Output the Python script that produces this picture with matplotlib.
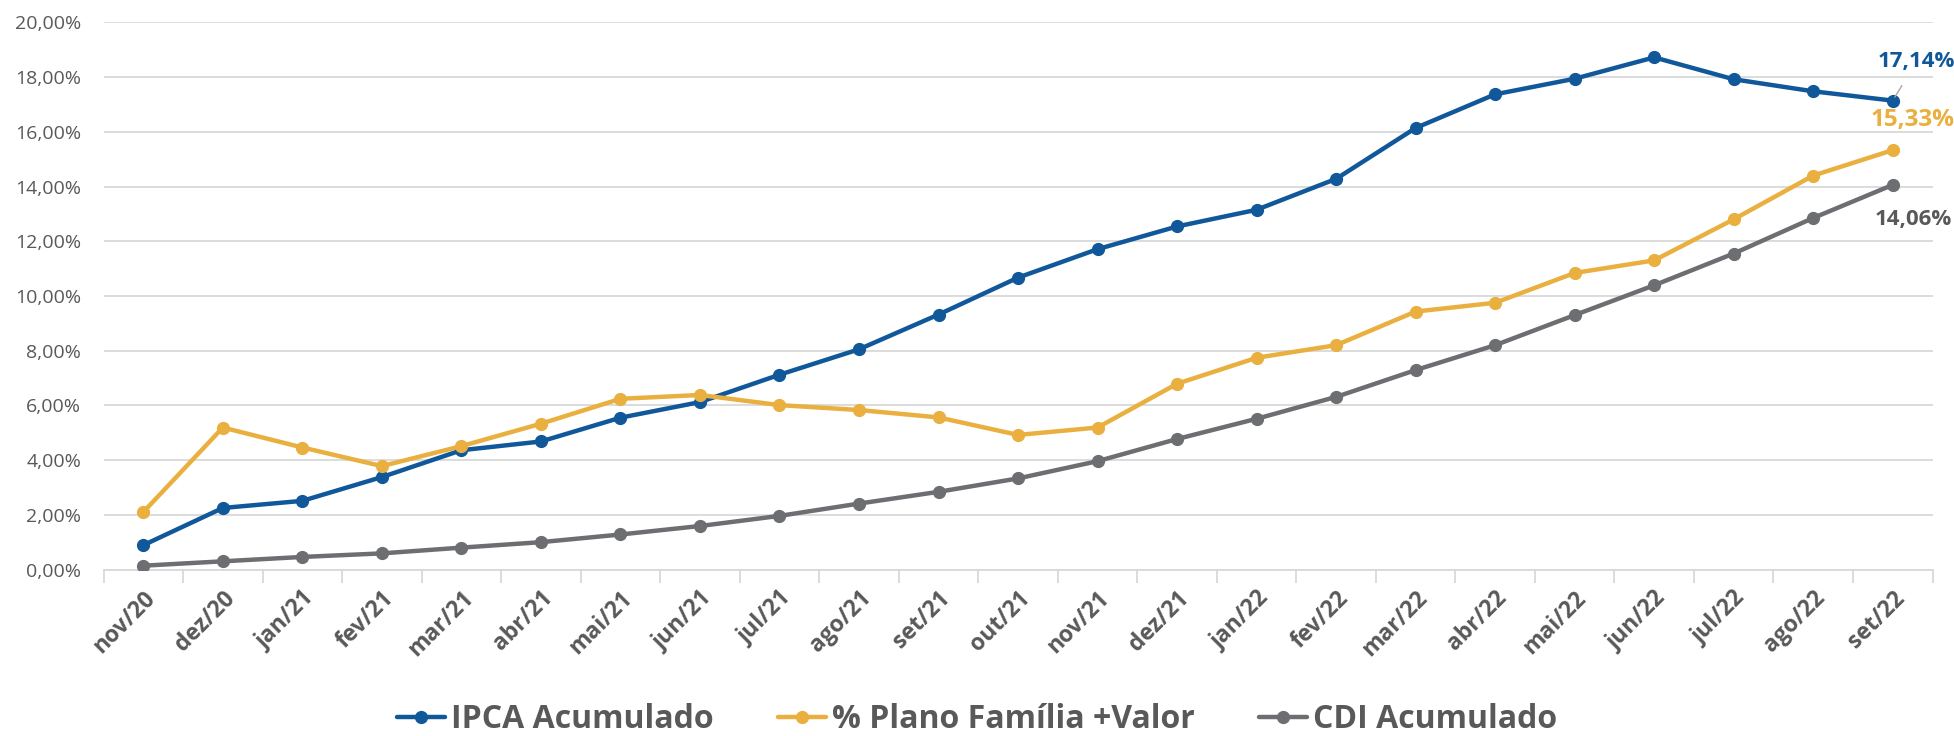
import matplotlib
matplotlib.use("Agg")
import matplotlib.pyplot as plt
from matplotlib.ticker import FuncFormatter, FixedLocator

plt.rcParams['font.family'] = ['Open Sans', 'DejaVu Sans']

# months
months = ["nov/20", "dez/20", "jan/21", "fev/21", "mar/21", "abr/21", "mai/21",
          "jun/21", "jul/21", "ago/21", "set/21", "out/21", "nov/21", "dez/21",
          "jan/22", "fev/22", "mar/22", "abr/22", "mai/22", "jun/22", "jul/22",
          "ago/22", "set/22"]

# accumulated values (%)
ipca = [0.89, 2.25, 2.51, 3.38, 4.36, 4.68, 5.55, 6.12, 7.12, 8.05, 9.32, 10.67,
        11.71, 12.54, 13.15, 14.28, 16.14, 17.37, 17.94, 18.72, 17.92, 17.48, 17.14]
plano = [2.10, 5.19, 4.46, 3.78, 4.51, 5.33, 6.24, 6.38, 6.01, 5.83, 5.56, 4.92,
         5.19, 6.79, 7.74, 8.20, 9.43, 9.75, 10.84, 11.30, 12.80, 14.40, 15.33]
cdi = [0.14, 0.30, 0.46, 0.59, 0.80, 1.00, 1.28, 1.59, 1.96, 2.41, 2.84, 3.33,
       3.96, 4.77, 5.51, 6.31, 7.29, 8.20, 9.30, 10.39, 11.55, 12.85, 14.06]

names = ["IPCA Acumulado", "% Plano Família +Valor", "CDI Acumulado"]
colors = ["#10589A", "#E9B03F", "#6D6E71"]
text_gray = "#595959"

fig = plt.figure(figsize=(19.54, 7.36), dpi=100)
ax = fig.add_axes([0.053, 0.2262, 0.936, 0.7434])

x = list(range(len(months)))
for vals, name, col in zip([ipca, plano, cdi], names, colors):
    ax.plot(x, vals, color=col, lw=3.2, marker="o", ms=8.5, label=name,
            solid_capstyle="round", zorder=3)

ax.set_xlim(-0.5, len(months) - 0.5)
ax.set_ylim(0, 20)
ax.set_yticks(range(0, 21, 2))
ax.yaxis.set_major_formatter(FuncFormatter(lambda v, p: f"{v:.2f}".replace(".", ",") + "%"))
ax.grid(axis="y", color="#D9D9D9", lw=1.3, zorder=0)
ax.set_axisbelow(True)

for s in ["top", "right", "left"]:
    ax.spines[s].set_visible(False)
ax.spines["bottom"].set_color("#D9D9D9")
ax.spines["bottom"].set_linewidth(1.3)

ax.tick_params(axis="y", length=0, labelsize=14, labelcolor=text_gray, pad=16)
ax.set_xticks(x)
ax.set_xticklabels(months, rotation=45, ha="right", rotation_mode="anchor",
                   fontsize=16.5, fontweight="bold", color=text_gray)
ax.tick_params(axis="x", which="major", length=0, pad=12)
ax.xaxis.set_minor_locator(FixedLocator([i - 0.5 for i in range(len(months) + 1)]))
ax.tick_params(axis="x", which="minor", length=9, color="#D9D9D9", width=1.3)

# end labels
last = len(months) - 1
ax.annotate(f"{ipca[-1]:.2f}".replace(".", ",") + "%", xy=(last, ipca[-1]),
            xytext=(17, 28), textcoords="offset points", ha="center", va="center",
            fontsize=16, fontweight="bold", color=colors[0],
            arrowprops=dict(arrowstyle="-", color="#A6A6A6", lw=1,
                            shrinkA=9, shrinkB=3))
ax.annotate(f"{plano[-1]:.2f}".replace(".", ",") + "%", xy=(last, plano[-1]),
            xytext=(14, 22), textcoords="offset points", ha="center", va="center",
            fontsize=17.5, fontweight="bold", color=colors[1])
ax.annotate(f"{cdi[-1]:.2f}".replace(".", ",") + "%", xy=(last, cdi[-1]),
            xytext=(15, -25), textcoords="offset points", ha="center", va="center",
            fontsize=16, fontweight="bold", color=text_gray)

leg = fig.legend(loc="center", bbox_to_anchor=(0.5, 0.022), ncol=3, frameon=False,
                 prop={"size": 23, "weight": "bold"}, handlelength=1.5,
                 columnspacing=2.0, handletextpad=0.2)
for t in leg.get_texts():
    t.set_color(text_gray)

fig.savefig("out.png", dpi=100)
